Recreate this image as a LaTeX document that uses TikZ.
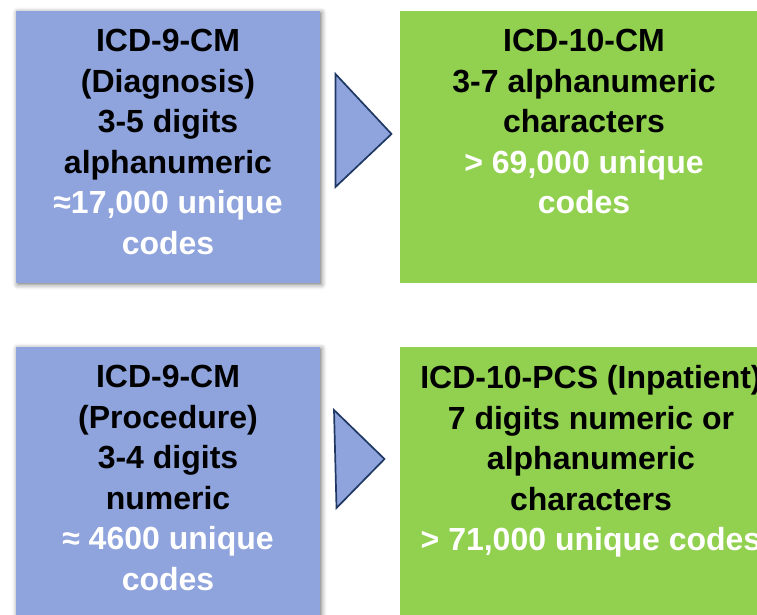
\documentclass[tikz,border=0pt]{standalone}
\usepackage{fontspec}
\setmainfont{Liberation Sans}
\usetikzlibrary{positioning,shadows.blur}
\definecolor{CodeBlue}{HTML}{8FA3DC}
\definecolor{CodeGreen}{HTML}{92D050}
\definecolor{Navy}{HTML}{1F3864}

\begin{document}
\begin{tikzpicture}[x=1pt,y=-1pt,
  box/.style={minimum height=272pt,inner sep=0pt,outer sep=0pt},
  oldbox/.style={box,minimum width=304pt,fill=CodeBlue,
    blur shadow={shadow xshift=1.5pt,shadow yshift=-1.5pt,shadow blur radius=5pt,shadow opacity=55}},
  newbox/.style={box,fill=CodeGreen},
  codetext/.style={align=center,inner sep=0pt,font=\bfseries\fontsize{32}{40.5}\selectfont},
  arrowhead/.style={draw=Navy,line width=1.7pt,fill=CodeBlue,line join=miter}]
\useasboundingbox (0,0) rectangle (757,615);
\clip (0,0) rectangle (757,615);

% diagnosis codes
\node[oldbox] (dx9) at (168,147) {};
\node[newbox,minimum width=368pt] (dx10) at (584,147) {};
\node[codetext,below=18.3pt of dx9.north] (dx9text)
  {ICD-9-CM\\(Diagnosis)\\3-5 digits\\alphanumeric\\
   \textcolor{white}{≈17,000 unique}\\\textcolor{white}{codes}};
\node[codetext,below=18.3pt of dx10.north] (dx10text)
  {ICD-10-CM\\3-7 alphanumeric\\characters\\
   \textcolor{white}{> 69,000 unique}\\\textcolor{white}{codes}};

% procedure codes
\node[oldbox] (px9) at (168,483) {};
\node[newbox,minimum width=382pt] (pcs10) at (591,483) {};
\node[codetext,below=18.3pt of px9.north] (px9text)
  {ICD-9-CM\\(Procedure)\\3-4 digits\\numeric\\
   \textcolor{white}{≈ 4600 unique}\\\textcolor{white}{codes}};
\node[codetext,below=18.3pt of pcs10.north] (pcs10text)
  {ICD-10-PCS (Inpatient)\\7 digits numeric or\\alphanumeric\\characters\\
   \textcolor{white}{> 71,000 unique codes}};

% arrow heads between the old and new code sets
\coordinate (dxtop) at (335.5,74);\coordinate (dxbot) at (335.5,187);
\coordinate (dxtip) at (391.5,134);
\draw[arrowhead] (dxtop)--(dxtip)--(dxbot)--cycle;
\coordinate (pxtop) at (334,410);\coordinate (pxbot) at (336.5,508);
\coordinate (pxtip) at (384.5,459);
\draw[arrowhead] (pxtop)--(pxtip)--(pxbot)--cycle;
\end{tikzpicture}
\end{document}
